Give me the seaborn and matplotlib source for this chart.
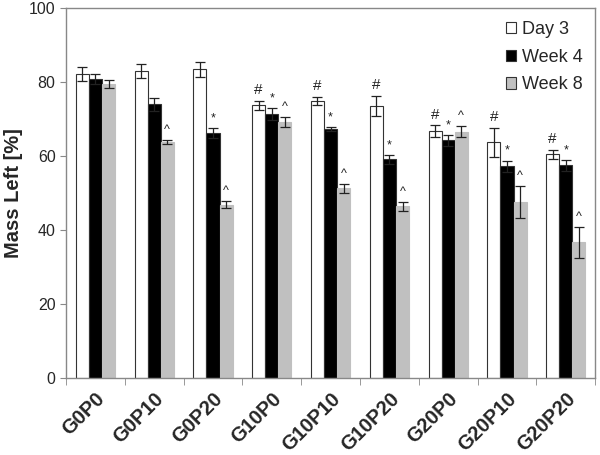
import matplotlib
matplotlib.use('Agg')
import matplotlib.pyplot as plt
import seaborn as sns
import pandas as pd
import numpy as np

groups = ['G0P0', 'G0P10', 'G0P20', 'G10P0', 'G10P10', 'G10P20', 'G20P0', 'G20P10', 'G20P20']
times = ['Day 3', 'Week 4', 'Week 8']

day3 = [82.3, 83.0, 83.5, 73.7, 74.9, 73.6, 66.8, 63.8, 60.5]
week4 = [80.8, 74.0, 66.2, 71.3, 67.3, 59.1, 64.3, 57.3, 57.5]
week8 = [79.5, 63.8, 46.9, 69.2, 51.3, 46.4, 66.6, 47.6, 36.7]

day3_err = [1.9, 1.8, 2.0, 1.2, 1.2, 2.7, 1.5, 3.9, 1.2]
week4_err = [1.3, 1.8, 1.3, 1.6, 0.6, 1.2, 1.5, 1.5, 1.5]
week8_err = [1.2, 0.6, 1.0, 1.4, 1.2, 1.2, 1.5, 4.3, 4.2]

day3_mark = ['', '', '', '#', '#', '#', '#', '#', '#']
week4_mark = ['', '', '*', '*', '*', '*', '*', '*', '*']
week8_mark = ['', '^', '^', '^', '^', '^', '^', '^', '^']

df = pd.DataFrame({
    'group': groups * 3,
    'time': [t for t in times for _ in groups],
    'mass': day3 + week4 + week8,
})
errs = [day3_err, week4_err, week8_err]
marks = [day3_mark, week4_mark, week8_mark]

sns.set_style('white')
plt.rcParams['font.family'] = ['Liberation Sans', 'DejaVu Sans']

fig = plt.figure(figsize=(6, 4.55), dpi=100)
ax = fig.add_axes([0.11, 0.169, 0.882, 0.813])

palette = ['white', 'black', '#c0c0c0']
sns.barplot(data=df, x='group', y='mass', hue='time', palette=palette,
            width=0.67, errorbar=None, ax=ax, saturation=1,
            edgecolor='#333333', linewidth=0.8)

bar_containers = list(ax.containers)
for i, cont in enumerate(bar_containers):
    for j, bar in enumerate(cont.patches):
        if i == 2:
            bar.set_edgecolor('#c0c0c0')
        xc = bar.get_x() + bar.get_width() / 2
        h = bar.get_height()
        ax.errorbar(xc, h, yerr=errs[i][j], fmt='none', ecolor='#222222',
                    elinewidth=0.9, capsize=3.5, capthick=0.9)
        if marks[i][j]:
            fs = 11 if marks[i][j] == '#' else 9
            ax.text(xc, h + errs[i][j] + 1.0, marks[i][j], ha='center',
                    va='bottom', fontsize=fs, color='#222222')

ax.set_ylim(0, 100)
ax.set_xlim(-0.5, len(groups) - 0.5)
ax.set_yticks([0, 20, 40, 60, 80, 100])
ax.tick_params(axis='y', labelsize=11.5, length=4, direction='out', color='#888888', left=True)
ax.set_xticks(np.arange(len(groups)))
ax.set_xticklabels(groups, rotation=45, ha='right', rotation_mode='anchor',
                   fontsize=14.5, fontweight='bold')
ax.tick_params(axis='x', which='major', length=0, pad=8)
ax.set_xticks(np.arange(len(groups) + 1) - 0.5, minor=True)
ax.tick_params(axis='x', which='minor', length=5, direction='out', color='#888888', bottom=True)
ax.set_xlabel('')
ax.set_ylabel('Mass Left [%]', fontsize=14.5, fontweight='bold')

for sp in ax.spines.values():
    sp.set_color('#888888')
    sp.set_linewidth(1.0)

handles, labels = ax.get_legend_handles_labels()
ax.legend(handles, labels, loc='upper right', frameon=False, fontsize=13,
          handlelength=0.6, handleheight=0.6, handletextpad=0.3,
          labelspacing=0.6, borderaxespad=0.3)

fig.savefig('out.png', dpi=100)
